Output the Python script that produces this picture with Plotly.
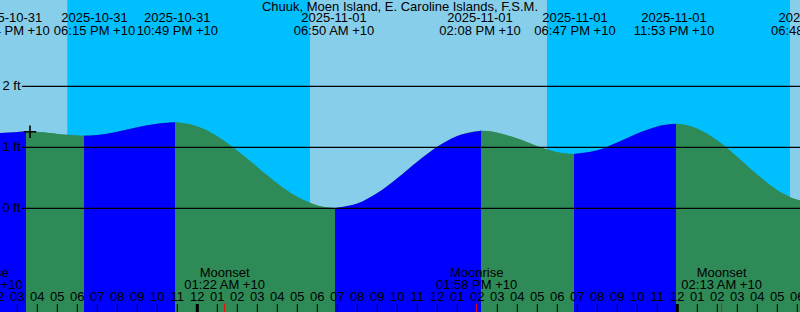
import plotly.graph_objects as go

# ---------------- data (hours relative to 2025-11-01 00:00 +10) ----------------
title_text = "Chuuk, Moen Island, E. Caroline Islands, F.S.M."

# hourly readings of the tide curve (ft)
sample_hours = [-10, -9, -8, -7, -6, -5, -4, -3, -2, 0, 1, 2, 3, 4, 5, 6, 8, 9, 10, 11,
                12, 13, 15, 16, 17, 18, 20, 21, 22, 23, 25, 26, 27, 28, 29, 30, 31]
sample_ft = [1.230, 1.252, 1.249, 1.220, 1.195, 1.200, 1.254, 1.328, 1.387, 1.341, 1.179,
             0.944, 0.674, 0.408, 0.187, 0.048, 0.077, 0.249, 0.492, 0.762,
             1.008, 1.187, 1.239, 1.143, 1.018, 0.920, 0.951, 1.079, 1.226, 1.343,
             1.305, 1.111, 0.841, 0.549, 0.298, 0.139, 0.103]

# high / low tide turning points as drawn (colour changes)
extreme_hours = [-8.565, -5.665, -1.115, 6.885, 14.185, 18.835, 23.935, 30.8]
extreme_ft = [1.258, 1.190, 1.410, 0.005, 1.270, 0.890, 1.385, 0.100]
extreme_dates = ["2025-10-31", "2025-10-31", "2025-10-31", "2025-11-01",
                 "2025-11-01", "2025-11-01", "2025-11-01", "2025-11-02"]
extreme_times = ["03:24 PM +10", "06:15 PM +10", "10:49 PM +10", "06:50 AM +10",
                 "02:08 PM +10", "06:47 PM +10", "11:53 PM +10", "06:48 AM +10"]
# where the event labels sit (some are nudged apart in the original)
extreme_label_hours = [-9.415, -5.14, -1.0, 6.835, 14.135, 18.885, 23.835, 30.7]

# night (sunset -> sunrise)
sunset_hours = [-6.5, 17.483]
sunrise_hours = [5.633, 29.633]

# moon events
moon_names = ["Moonrise", "Moonset", "Moonrise", "Moonset"]
moon_hours = [-10.767, 1.367, 13.967, 26.217]
moon_times = ["01:14 PM +10", "01:22 AM +10", "01:58 PM +10", "02:13 AM +10"]

# current-time marker
now_hour = -8.365
now_ft = 1.256

# axis ticks
tick_hours = list(range(-10, 32))
tick_labels = [f"{(h % 12) or 12:02d}" for h in tick_hours]
level_ticks = [0, 1, 2]
level_labels = ["0 ft", "1 ft", "2 ft"]

# ---------------- styling ----------------
DAY = "#87CEEB"
NIGHT = "#00BFFF"
FLOOD = "#0000FF"
EBB = "#2E8B57"
FONT = "Liberation Sans, Arial, sans-serif"
X_RANGE = [-9.865, 30.135]
Y_RANGE = [-1.70, 3.415]
BOTTOM = -2.5

fig = go.Figure()

# merge readings
pts = sorted(zip(sample_hours + extreme_hours, sample_ft + extreme_ft))
all_h = [p[0] for p in pts]
all_f = [p[1] for p in pts]

# base water (ebb colour) over whole range
fig.add_trace(go.Scatter(x=[all_h[0], all_h[-1]], y=[BOTTOM, BOTTOM], mode="lines",
                         line=dict(width=0), hoverinfo="skip", showlegend=False))
fig.add_trace(go.Scatter(x=all_h, y=all_f, mode="lines", fill="tonexty",
                         fillcolor=EBB, line=dict(width=0, shape="spline", color=EBB),
                         hoverinfo="skip", showlegend=False))

# segments between events, coloured by rising / falling
bounds = [all_h[0]] + extreme_hours + [all_h[-1]]
for a, b in zip(bounds[:-1], bounds[1:]):
    seg = [(h, f) for h, f in pts if a <= h <= b]
    if len(seg) < 2:
        continue
    rising = seg[-1][1] > seg[0][1]
    col = FLOOD if rising else EBB
    fig.add_trace(go.Scatter(x=[seg[0][0], seg[-1][0]], y=[BOTTOM, BOTTOM], mode="lines",
                             line=dict(width=0), hoverinfo="skip", showlegend=False))
    fig.add_trace(go.Scatter(x=[s[0] for s in seg], y=[s[1] for s in seg], mode="lines",
                             fill="tonexty", fillcolor=col,
                             line=dict(width=0, shape="spline", color=col),
                             hoverinfo="skip", showlegend=False))

# now marker
fig.add_trace(go.Scatter(x=[now_hour], y=[now_ft], mode="markers",
                         marker=dict(symbol="cross-thin", size=9,
                                     line=dict(width=1.6, color="black")),
                         hoverinfo="skip", showlegend=False))

shapes = []
# night bands
for s, r in zip(sunset_hours, sunrise_hours):
    shapes.append(dict(type="rect", xref="x", yref="paper", x0=s, x1=r, y0=0, y1=1,
                       fillcolor=NIGHT, line=dict(width=0), layer="below"))
# level grid lines
for lv in level_ticks:
    shapes.append(dict(type="line", xref="x", yref="y", x0=-8.77, x1=X_RANGE[1] + 1,
                       y0=lv, y1=lv, line=dict(color="black", width=1.3)))
# hour ticks
for h in tick_hours:
    w = 3 if h % 24 == 0 else 1
    shapes.append(dict(type="line", xref="x", yref="y2", x0=h, x1=h, y0=304, y1=313,
                       line=dict(color="black", width=w)))
# moon ticks
for h in moon_hours:
    shapes.append(dict(type="line", xref="x", yref="y2", x0=h, x1=h, y0=303.5, y1=313,
                       line=dict(color="red", width=1)))

# text (pixel-style overlay axis y2)
tx, ty, tt = [], [], []
tx.append(sum(X_RANGE) / 2); ty.append(7.5); tt.append(title_text)
for h, d, t in zip(extreme_label_hours, extreme_dates, extreme_times):
    tx += [h, h]; ty += [19.2, 31.7]; tt += [d, t]
for h, n, t in zip(moon_hours, moon_names, moon_times):
    tx += [h, h]; ty += [273.5, 286.0]; tt += [n, t]
for h, lab in zip(tick_hours, tick_labels):
    tx.append(h); ty.append(297.5); tt.append(lab)

fig.add_trace(go.Scatter(x=tx, y=ty, text=tt, mode="text", yaxis="y2",
                         textposition="middle center",
                         textfont=dict(family=FONT, size=13, color="black"),
                         hoverinfo="skip", showlegend=False))

# level labels (on main axis)
fig.add_trace(go.Scatter(x=[-9.29] * len(level_ticks), y=level_ticks, text=level_labels,
                         mode="text", textposition="middle center",
                         textfont=dict(family=FONT, size=13, color="black"),
                         hoverinfo="skip", showlegend=False))

fig.update_layout(
    width=800, height=312,
    margin=dict(l=0, r=0, t=0, b=0),
    paper_bgcolor=DAY, plot_bgcolor=DAY,
    xaxis=dict(range=X_RANGE, visible=False, fixedrange=True),
    yaxis=dict(range=Y_RANGE, visible=False, fixedrange=True),
    yaxis2=dict(range=[312, 0], overlaying="y", visible=False, fixedrange=True),
    shapes=shapes,
    showlegend=False,
)

fig.write_html("out.html", config={"displayModeBar": False})
